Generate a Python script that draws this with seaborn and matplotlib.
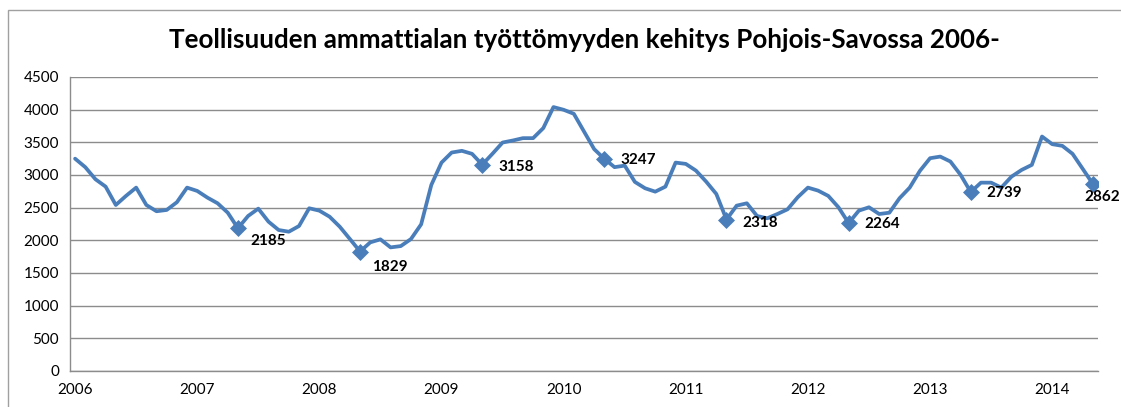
import matplotlib
matplotlib.use("Agg")
import matplotlib.pyplot as plt
import seaborn as sns
import numpy as np
import pandas as pd
from matplotlib.patches import Rectangle

# ---------------- data ----------------
title = "Teollisuuden ammattialan työttömyyden kehitys Pohjois-Savossa 2006-"
months = pd.date_range("2006-01-01", "2014-05-01", freq="MS")
values = [
    3250, 3120, 2935, 2822, 2541, 2680, 2807, 2541, 2445, 2465, 2583, 2807,  # 2006
    2756, 2654, 2567, 2423, 2185, 2373, 2485, 2286, 2158, 2132, 2219, 2491,  # 2007
    2454, 2362, 2209, 2020, 1829, 1969, 2015, 1892, 1912, 2020, 2245, 2848,  # 2008
    3190, 3344, 3370, 3324, 3158, 3324, 3497, 3528, 3564, 3564, 3718, 4040,  # 2009
    3998, 3937, 3666, 3396, 3247, 3120, 3144, 2894, 2797, 2745, 2822, 3190,  # 2010
    3170, 3067, 2899, 2710, 2318, 2531, 2567, 2373, 2337, 2403, 2475, 2660,  # 2011
    2807, 2761, 2680, 2506, 2264, 2454, 2506, 2403, 2423, 2644, 2807, 3063,  # 2012
    3257, 3282, 3206, 3002, 2739, 2883, 2883, 2807, 2975, 3078, 3155, 3589,  # 2013
    3472, 3446, 3324, 3094, 2862,                                            # 2014
]
year_labels = ["2006", "2007", "2008", "2009", "2010", "2011", "2012", "2013", "2014"]
y_ticks = [0, 500, 1000, 1500, 2000, 2500, 3000, 3500, 4000, 4500]

df = pd.DataFrame({"month": months, "value": values})
df["idx"] = np.arange(len(df))
marked = df[(df["month"].dt.month == 5) & (df["month"].dt.year >= 2007)]

# label offsets in pixels (style only)
label_offsets = [(12, -13), (12, -15), (16, -2), (16, -1), (16, -3), (16, -1), (16, -1), (-9, -13)]

# ---------------- style ----------------
W, H = 1121, 407
DPI = 100
line_color = "#4A7EBB"
grid_color = "#8C8C8C"
font = ["Lato", "DejaVu Sans"]

sns.set_style("white")
plt.rcParams["font.family"] = font

fig = plt.figure(figsize=(W / DPI, H / DPI), dpi=DPI)
left, right, top, bottom = 70, 1098, 77, 371
ax = fig.add_axes([left / W, 1 - bottom / H, (right - left) / W, (bottom - top) / H])

# chart frame
fig.patches.append(Rectangle((7.5 / W, -0.1), 1.2, 1 - 10 / H + 0.1, transform=fig.transFigure,
                             fill=False, edgecolor="#A0A0A0", linewidth=1.0, zorder=0))

sns.lineplot(data=df, x="idx", y="value", ax=ax, color=line_color, linewidth=2.7, zorder=3)
sns.scatterplot(data=marked, x="idx", y="value", ax=ax, marker="D", s=75, color=line_color,
                edgecolor=line_color, linewidth=0, zorder=4)

for (i, row), (dx, dy) in zip(marked.iterrows(), label_offsets):
    ax.annotate(f"{row['value']:d}", (row["idx"], row["value"]), xytext=(dx, dy),
                textcoords="offset pixels", ha="left", va="center",
                fontsize=11, fontweight="bold", color="black", annotation_clip=False, zorder=5)

n = len(df)
ax.set_xlim(-0.5, n - 0.5)
ax.set_ylim(0, 4500)
ax.set_yticks(y_ticks)
ax.set_yticklabels([str(v) for v in y_ticks])
ax.yaxis.grid(True, color=grid_color, linewidth=1.0)
ax.set_axisbelow(True)

# x ticks: marks at month boundaries, labels at January of each year
ax.set_xticks(np.arange(n + 1) - 0.5)
ax.set_xticklabels([])
ax.set_xticks(np.arange(0, n, 12), minor=True)
ax.set_xticklabels(year_labels, minor=True)
ax.tick_params(axis="x", which="major", direction="out", length=4, color=grid_color, width=1)
ax.tick_params(axis="x", which="minor", length=0, pad=9, labelsize=11, labelcolor="black")
ax.tick_params(axis="y", direction="out", length=4, color=grid_color, width=1, pad=4,
               labelsize=11, labelcolor="black")

for s in ["top", "right"]:
    ax.spines[s].set_visible(False)
for s in ["left", "bottom"]:
    ax.spines[s].set_color(grid_color)
    ax.spines[s].set_linewidth(1.0)

ax.set_xlabel("")
ax.set_ylabel("")
fig.text((left + right) / 2 / W, 1 - 40 / H, title, ha="center", va="center",
         fontsize=18.7, fontweight="bold", color="black")

fig.savefig("out.png", dpi=DPI)
